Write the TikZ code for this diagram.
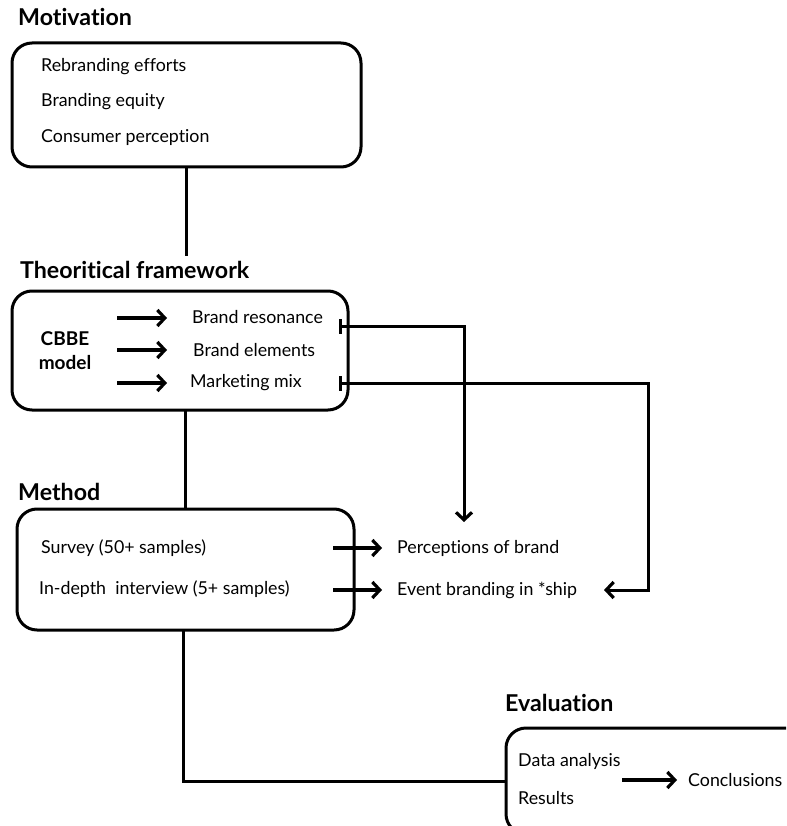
\documentclass[tikz,border=0pt]{standalone}
\usepackage{fontspec}
\setmainfont{Lato}[Ligatures={NoCommon}]
\usetikzlibrary{arrows.meta}
\begin{document}
\begin{tikzpicture}[x=1pt,y=-1pt,
  box/.style={draw, line width=3pt, rounded corners=20pt, inner sep=0pt, outer sep=0pt},
  item/.style={anchor=west, inner sep=0pt, font=\fontsize{17.8}{20}\selectfont},
  title/.style={anchor=west, inner sep=0pt, font=\fontsize{23.2}{26}\selectfont\bfseries},
  wire/.style={line width=3pt},
  flow/.style={line width=3.2pt, -{Straight Barb[length=7.5pt,width=16pt,line width=3.2pt]}},
  tee/.style={line width=3pt, {Bar[width=15pt,line width=3pt]}-{Straight Barb[length=7.5pt,width=16pt,line width=3.2pt]}}
]
\useasboundingbox (0,0) rectangle (786,826);

% section titles
\node[title] (tmot)  at (18,17)  {Motivation};
\node[title] (ttheo) at (20,270) {Theoritical framework};
\node[title] (tmeth) at (18,492) {Method};
\node[title] (teval) at (505,703) {Evaluation};

% boxes
\node[box, minimum width=349pt, minimum height=124pt] (mot)  at (186.5,105) {};
\node[box, minimum width=336pt, minimum height=119pt] (theo) at (180,350.5) {};
\node[box, minimum width=337pt, minimum height=121pt] (meth) at (185.5,569.5) {};
\begin{scope}
  \clip (0,0) rectangle (786,826);
  \node[box, minimum width=300pt, minimum height=106pt] (eval) at (656,781) {};
\end{scope}

% motivation items
\node[item] (m1) at (41,67)  {Rebranding efforts};
\node[item] (m2) at (41,102) {Branding equity};
\node[item] (m3) at (41,138) {Consumer perception};

% theoretical framework
\node[inner sep=0pt, align=center, font=\fontsize{19}{24}\selectfont\bfseries] (cbbe) at (65,351) {CBBE\\model};
\node[item] (br) at (192,317) {Brand resonance};
\node[item] (be) at (193,350) {Brand elements};
\node[item] (mm) at (190,383) {Marketing mix};
\coordinate (a1) at (117,318);
\coordinate (a2) at (117,350);
\coordinate (a3) at (117,383);
\draw[flow, shorten >=25pt] (a1) -- (a1 -| br.west);
\draw[flow, shorten >=26pt] (a2) -- (a2 -| be.west);
\draw[flow, shorten >=23pt] (a3) -- (a3 -| mm.west);

% method
\node[item] (s1) at (41,548) {Survey (50+ samples)};
\node[item] (s2) at (39,589) {In-depth\ \ interview (5+ samples)};
\node[item] (perc) at (397,548) {Perceptions of brand};
\node[item] (ship) at (397,590) {Event branding in *ship};
\coordinate (b1) at (333,548);
\coordinate (b2) at (333,590);
\draw[flow, shorten >=15pt] (b1) -- (perc.west);
\draw[flow, shorten >=15pt] (b2) -- (ship.west);

% links from the framework to the findings
\coordinate (t1) at (339,326);
\coordinate (d1) at (464,522);
\coordinate (t2) at (339,383);
\coordinate (c2) at (648,590);
\coordinate (d2) at (604,590);
\draw[tee] (t1) -| (d1);
\draw[tee] (t2) -| (c2) -- (d2);

% evaluation
\node[item] (e1) at (518,761) {Data analysis};
\node[item] (e2) at (518,798) {Results};
\node[item] (conc) at (688,780) {Conclusions};
\coordinate (g1) at (622,780);
\draw[flow, shorten >=11pt] (g1) -- (conc.west);

% stage connectors
\coordinate (j1) at (186.5,256);
\draw[wire] (mot.south) -- (j1);
\draw[wire] (meth.north) -- (meth.north |- theo.south);
\draw[wire] (meth.south -| 183,0) |- (eval.west);
\end{tikzpicture}
\end{document}
